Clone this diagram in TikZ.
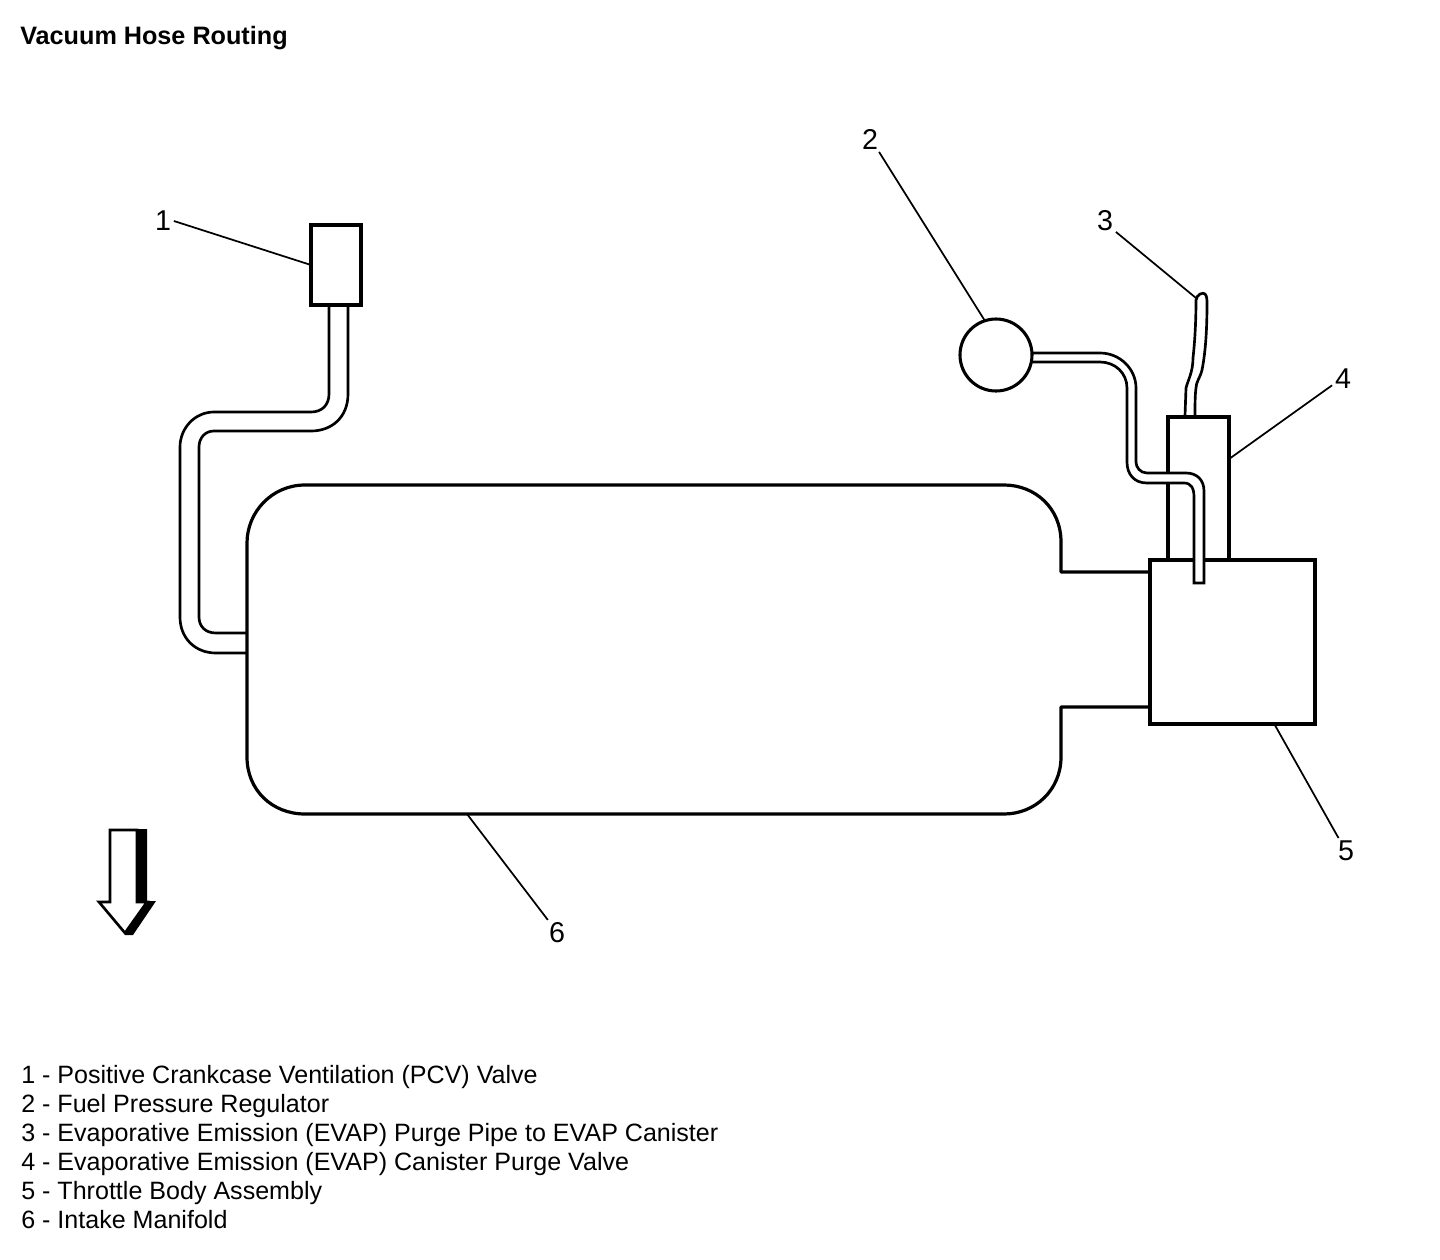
\documentclass[tikz,border=0pt]{standalone}
\usepackage{fontspec}
\setmainfont{Liberation Sans}
\begin{document}
\begin{tikzpicture}[x=0.75pt,y=-0.75pt,
  lbl/.style={inner sep=2pt,font=\fontsize{21.5}{24}\selectfont},
  legend/.style={inner sep=0pt,anchor=base west,font=\fontsize{18.8}{22}\selectfont},
  part/.style={draw=black,line width=2.3pt,fill=white,inner sep=0pt,outer sep=0pt},
  hose/.style={draw=black,line width=2pt},
  leader/.style={draw=black,line width=1.3pt}]
\useasboundingbox (0,0) rectangle (1440,1260);
\fill[white] (0,0) rectangle (1440,1260);

% title
\node[inner sep=0pt,anchor=base west,font=\bfseries\fontsize{18.9}{22}\selectfont] (title) at (20,44) {Vacuum Hose Routing};

% intake manifold
\coordinate (m6) at (467,814);
\draw[line width=2.4pt,line join=round] (1150,572) -- (1061,572) -- (1061,542)
  .. controls (1061,508) and (1035,485) .. (1004,485) -- (305,485)
  .. controls (272,485) and (247,512) .. (247,543) -- (247,757)
  .. controls (247,790) and (272,814) .. (305,814) -- (1004,814)
  .. controls (1035,814) and (1061,790) .. (1061,757) -- (1061,707) -- (1150,707);

% PCV valve
\node[part,rectangle,minimum width=37.5pt,minimum height=60pt,anchor=north west] (box1) at (311,225) {};

% PCV hose
\draw[hose] ([xshift=-5.25pt]box1.south) -- (329,394) .. controls (329,405) and (322,412) .. (311,412) -- (214,412)
  .. controls (195,412) and (180,428) .. (180,447) -- (180,617)
  .. controls (180,638) and (195,653) .. (216,653) -- (247,653);
\draw[hose] ([xshift=9pt]box1.south) -- (348,394) .. controls (348,417) and (332,431) .. (311,431) -- (214,431)
  .. controls (205,431) and (199,438) .. (199,447) -- (199,617)
  .. controls (199,626) and (205,633) .. (216,633) -- (247,633);

% EVAP purge valve
\node[part,rectangle,minimum width=45.75pt,minimum height=107.25pt,anchor=north west] (box4) at (1168,417) {};

% throttle body
\node[part,rectangle,minimum width=123.75pt,minimum height=123pt,anchor=north west] (box5) at (1150,560) {};

% regulator hose
\draw[hose,fill=white] (1032,353) -- (1100,353) .. controls (1120,353) and (1136,369) .. (1136,388) -- (1136,462)
  .. controls (1136,467) and (1140,473) .. (1147,473) -- (1186,473)
  .. controls (1197,473) and (1204,480) .. (1204,491) -- (1204,583) -- (1194,583) -- (1194,497)
  .. controls (1194,488) and (1191,483) .. (1184,483) -- (1147,483)
  .. controls (1134,483) and (1127,474) .. (1127,462) -- (1127,388)
  .. controls (1127,373) and (1115,362) .. (1100,362) -- (1032,362);

% regulator
\node[part,circle,minimum size=54pt] (circ2) at (996,355) {};

% purge pipe
\draw[hose] (1185,416) -- (1186,388) .. controls (1188,380) and (1193,372) .. (1193,358)
  .. controls (1195,340) and (1196,320) .. (1196,300) .. controls (1197,294) and (1203,292) .. (1205,294)
  .. controls (1207,296) and (1207,300) .. (1207,304) .. controls (1207,325) and (1206,350) .. (1202,370)
  .. controls (1200,378) and (1196,382) .. (1196,388) .. controls (1195,395) and (1195,405) .. (1195,416);
\coordinate (p3) at (1196,298);

% direction arrow
\fill[black] (137,829) -- (147,829) -- (147,901) -- (156,901) -- (133,935) -- (125,935) -- cycle;
\draw[line width=2pt,fill=white,line join=miter] (110,830) -- (137,830) -- (137,902) -- (147,902) -- (125,933) -- (99,902) -- (110,902) -- cycle;

% callouts
\node[lbl] (n1) at (163,221) {1};
\node[lbl] (n2) at (870,139) {2};
\node[lbl] (n3) at (1105,221) {3};
\node[lbl] (n4) at (1343,379) {4};
\node[lbl] (n5) at (1346,851) {5};
\node[lbl] (n6) at (557,933) {6};
\draw[leader] (n1.east) -- (box1.west);
\draw[leader] (n2.-55) -- (circ2.108);
\draw[leader] (n3.-45) -- (p3);
\draw[leader] (n4.-150) -- (box4.44);
\draw[leader] (n5.120) -- (box5.-63);
\draw[leader] (n6.125) -- (m6);

% legend
\node[legend] (l1) at (21,1083) {1 - Positive Crankcase Ventilation (PCV) Valve};
\node[legend] (l2) at (21,1112) {2 - Fuel Pressure Regulator};
\node[legend] (l3) at (21,1141) {3 - Evaporative Emission (EVAP) Purge Pipe to EVAP Canister};
\node[legend] (l4) at (21,1170) {4 - Evaporative Emission (EVAP) Canister Purge Valve};
\node[legend] (l5) at (21,1199) {5 - Throttle Body Assembly};
\node[legend] (l6) at (21,1228) {6 - Intake Manifold};
\end{tikzpicture}
\end{document}
